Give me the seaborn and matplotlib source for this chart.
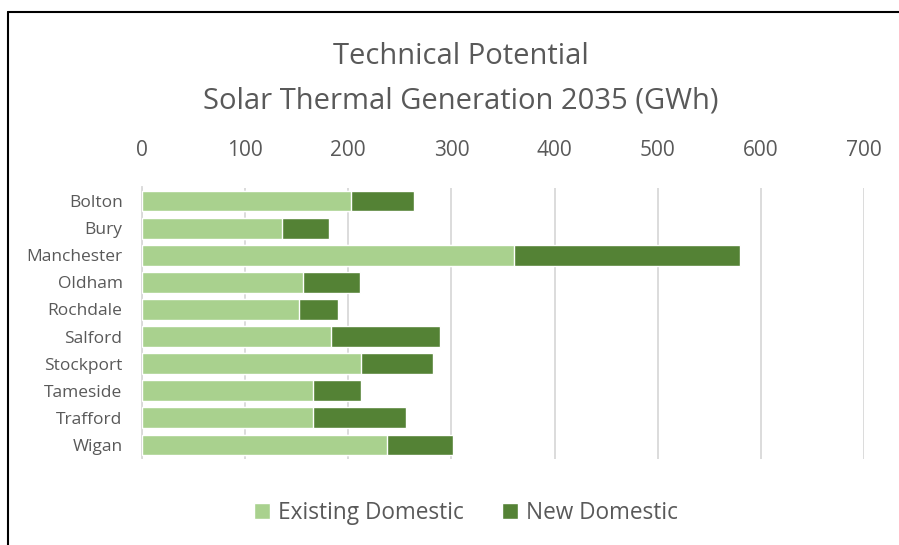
import matplotlib
matplotlib.use("Agg")
import matplotlib.pyplot as plt
import seaborn as sns
import pandas as pd
from matplotlib.lines import Line2D
from matplotlib.patches import Patch

# values (GWh)
districts = ["Bolton", "Bury", "Manchester", "Oldham", "Rochdale",
             "Salford", "Stockport", "Tameside", "Trafford", "Wigan"]
existing = [202.6, 135.9, 361.0, 156.3, 151.8, 182.8, 211.9, 165.7, 165.4, 237.9]
new = [61.5, 45.5, 218.5, 55.1, 38.3, 106.2, 70.0, 47.0, 90.7, 64.1]

df = pd.DataFrame({"district": districts, "existing": existing, "new": new})
df["total"] = df["existing"] + df["new"]

light = "#A9D18E"
dark = "#548235"
grey = "#595959"

sns.set_style("white")
plt.rcParams["font.family"] = ["Open Sans", "DejaVu Sans"]

fig = plt.figure(figsize=(8.99, 5.45), dpi=100)
ax = fig.add_axes([142 / 899, 1 - 458.5 / 545, 722 / 899, 271 / 545])

# stacked: total first (dark), existing drawn over it (light)
sns.barplot(data=df, y="district", x="total", color=dark, orient="h",
            width=0.77, saturation=1, ax=ax, zorder=2)
sns.barplot(data=df, y="district", x="existing", color=light, orient="h",
            width=0.77, saturation=1, ax=ax, zorder=3)

ax.set_xlim(0, 700)
ax.set_ylim(9.5, -0.5)
ax.set_xticks(range(0, 701, 100))
ax.xaxis.tick_top()
ax.tick_params(axis="x", length=0, pad=19, labelsize=15, labelcolor=grey)
ax.tick_params(axis="y", length=0, pad=14, labelsize=12.5, labelcolor=grey)
ax.set_xlabel("")
ax.set_ylabel("")
ax.grid(axis="x", color="#D9D9D9", linewidth=1.3, zorder=0)
ax.set_axisbelow(True)
for s in ["top", "right", "bottom"]:
    ax.spines[s].set_visible(False)
ax.spines["left"].set_color("#D9D9D9")
ax.spines["left"].set_linewidth(1.3)

fig.text(461 / 899, 1 - 56 / 545, "Technical Potential", ha="center", va="center",
         fontsize=21, color=grey)
fig.text(461 / 899, 1 - 101 / 545, "Solar Thermal Generation 2035 (GWh)", ha="center",
         va="center", fontsize=21, color=grey)

handles = [Patch(facecolor=light, label="Existing Domestic"),
           Patch(facecolor=dark, label="New Domestic")]
fig.legend(handles=handles, loc="center", bbox_to_anchor=(466 / 899, 1 - 513 / 545),
           ncol=2, frameon=False, fontsize=16.3, labelcolor=grey,
           handlelength=0.7, handleheight=0.7, handletextpad=0.35, columnspacing=1.7)

# frame edges visible in the cropped reference (left and top only)
fig.add_artist(Line2D([8 / 899, 8 / 899], [0, 1 - 12 / 545], color="black", linewidth=1.5))
fig.add_artist(Line2D([8 / 899, 1], [1 - 12 / 545, 1 - 12 / 545], color="black", linewidth=1.5))

fig.savefig("out.png", dpi=100)
plt.close(fig)
